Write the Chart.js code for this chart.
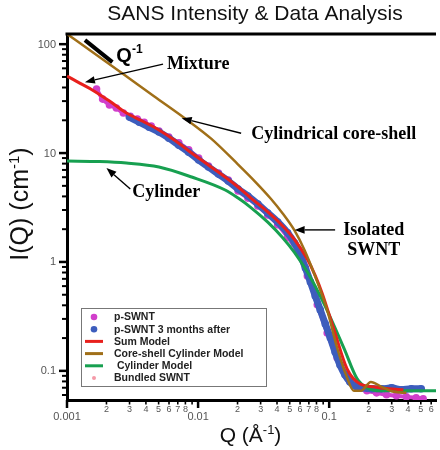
<!DOCTYPE html>
<html>
<head>
<meta charset="utf-8">
<title>SANS Intensity &amp; Data Analysis</title>
<script src="https://cdn.jsdelivr.net/npm/chart.js@4.4.1/dist/chart.umd.min.js"></script>
<style>
  html, body { margin: 0; padding: 0; background: #fff; }
  #wrap { width: 440px; height: 450px; }
</style>
</head>
<body>
<div id="wrap"><canvas id="sans" width="440" height="450"></canvas></div>
<script>
// Q in 1/Angstrom, I(Q) in 1/cm
var pswntQ = [0.00168, 0.00187, 0.00211, 0.00238, 0.00269, 0.00304, 0.00344, 0.00388, 0.00439, 0.00503,
              0.00598, 0.00713, 0.00848, 0.0101, 0.0120, 0.0143, 0.0170, 0.0202, 0.0240, 0.0286,
              0.0340, 0.0405, 0.0482, 0.0573, 0.0682, 0.0812, 0.0966, 0.115, 0.137, 0.163,
              0.194, 0.230, 0.274, 0.326, 0.388, 0.461, 0.521];
var pswntI = [38.7, 31.3, 27.6, 25.9, 23.3, 21.8, 20.5, 19.2, 17.7, 15.9,
              14.0, 12.4, 10.7, 9.00, 7.60, 6.56, 5.65, 4.48, 3.86, 3.27,
              2.70, 2.20, 1.69, 1.24, 0.745, 0.404, 0.223, 0.132, 0.0881, 0.0714,
              0.0656, 0.0628, 0.0603, 0.0590, 0.0577, 0.0565, 0.0553];

var laterQ = [0.00299, 0.00356, 0.00423, 0.00503, 0.00598, 0.00713, 0.00848, 0.0101, 0.0120, 0.0143,
              0.0170, 0.0202, 0.0240, 0.0286, 0.0340, 0.0405, 0.0482, 0.0545, 0.0604, 0.0659,
              0.0719, 0.0783, 0.0855, 0.0934, 0.102, 0.111, 0.121, 0.132, 0.144, 0.157,
              0.177, 0.211, 0.251, 0.299, 0.356, 0.423, 0.504];
var laterI = [21.4, 19.2, 17.3, 15.6, 13.7, 11.8, 10.2, 8.63, 7.45, 6.41,
              5.53, 4.68, 4.04, 3.40, 2.82, 2.33, 1.85, 1.49, 1.16, 0.881,
              0.656, 0.488, 0.363, 0.270, 0.201, 0.149, 0.113, 0.0919, 0.0792, 0.0728,
              0.0698, 0.0684, 0.0684, 0.0698, 0.0670, 0.0684, 0.0684];

var sumQ = [0.001, 0.00125, 0.00157, 0.00211, 0.00284, 0.00375, 0.00503, 0.00676, 0.00893, 0.0120,
            0.0161, 0.0202, 0.0253, 0.0340, 0.0427, 0.0545, 0.0682, 0.0783, 0.0885, 0.109,
            0.137, 0.171, 0.219, 0.284, 0.368];
var sumI = [51, 43.9, 37.8, 30.0, 23.3, 19.7, 16.3, 12.9, 10.0, 7.76,
            6.03, 4.88, 3.86, 2.88, 2.23, 1.60, 1.06, 0.750, 0.514, 0.237,
            0.104, 0.0760, 0.0714, 0.0684, 0.0670];

var shellQ = [0.001, 0.00163, 0.00265, 0.00461, 0.00805, 0.01265, 0.0202, 0.0272, 0.0359, 0.0442,
              0.0545, 0.0648, 0.0783, 0.0966, 0.115, 0.137, 0.154, 0.175, 0.208, 0.251,
              0.310, 0.388];
var shellI = [124, 81.8, 53.9, 33.3, 20.6, 13.5, 7.85, 5.48, 3.81, 2.79,
              1.94, 1.29, 0.735, 0.361, 0.163, 0.0863, 0.0656, 0.0656, 0.0792, 0.0714,
              0.0642, 0.0628];

var cylQ = [0.001, 0.00177, 0.00284, 0.00503, 0.00893, 0.0161, 0.0202, 0.0253, 0.0340, 0.0442,
            0.0545, 0.0682, 0.0916, 0.130, 0.163, 0.194, 0.251, 0.326, 0.653];
var cylI = [8.45, 8.36, 8.10, 7.45, 6.03, 4.58, 3.86, 3.16, 2.32, 1.67,
            1.22, 0.807, 0.410, 0.160, 0.0849, 0.0698, 0.0656, 0.0656, 0.0656];

var bundledQ = [];
var bundledI = [];

// Q^-1 guide segment
var slopeQ = [0.00137, 0.00222];
var slopeI = [108.8, 68.4];

// axis ticks
var xMajorTicks = [0.001, 0.01, 0.1];
var xMajorLabels = ['0.001', '0.01', '0.1'];
var xMinorSteps = [2, 3, 4, 5, 6, 7, 8, 9];
var xMinorLabels = ['2', '3', '4', '5', '6', '7', '8', ''];
var yMajorTicks = [0.01, 0.1, 1, 10, 100];
var yMajorLabels = ['', '0.1', '1', '10', '100'];
var yMinorSteps = [2, 3, 4, 5, 6, 7, 8, 9];

// annotations, anchored in data space
var notes = [
	{ text: 'Mixture', q: 0.00578, i: 59.0, from: [0.00540, 65.6], to: [0.00137, 44.8] },
	{ text: 'Cylindrical core-shell', q: 0.0254, i: 13.4, from: [0.0213, 15.2], to: [0.00750, 20.9] },
	{ text: 'Cylinder', q: 0.00315, i: 3.94, from: [0.00304, 4.68], to: [0.00200, 7.28] },
	{ text: 'Isolated', q: 0.219, i: 1.77, center: true, from: [0.111, 1.97], to: [0.0545, 1.97] },
	{ text: 'SWNT', q: 0.219, i: 1.16, center: true }
];
var slopeNote = { q: 0.00238, i: 68.4 };

var sansFont = "'Liberation Sans', Arial, sans-serif";
var serifFont = "'Liberation Serif', 'Times New Roman', serif";

function toPoints(q, i) {
	return q.map(function(v, k) { return { x: v, y: i[k] }; });
}

function drawPieces(ctx, pieces, x, y, center) {
	// pieces: [text, size, bold, raise]
	var w = 0;
	pieces.forEach(function(p) {
		ctx.font = (p[2] ? 'bold ' : '') + p[1] + 'px ' + sansFont;
		w += ctx.measureText(p[0]).width;
	});
	var cx = center ? x - w / 2 : x;
	ctx.textAlign = 'left';
	pieces.forEach(function(p) {
		ctx.font = (p[2] ? 'bold ' : '') + p[1] + 'px ' + sansFont;
		ctx.fillText(p[0], cx, y - p[3]);
		cx += ctx.measureText(p[0]).width;
	});
}

function drawArrow(ctx, x1, y1, x2, y2) {
	var ang = Math.atan2(y2 - y1, x2 - x1);
	var len = 10, half = 3.8;
	var bx = x2 - len * Math.cos(ang), by = y2 - len * Math.sin(ang);
	ctx.beginPath();
	ctx.moveTo(x1, y1);
	ctx.lineTo(bx, by);
	ctx.stroke();
	ctx.beginPath();
	ctx.moveTo(x2, y2);
	ctx.lineTo(bx + half * Math.sin(ang), by - half * Math.cos(ang));
	ctx.lineTo(bx - half * Math.sin(ang), by + half * Math.cos(ang));
	ctx.closePath();
	ctx.fill();
}

var decor = {
	id: 'decor',
	afterDraw: function(chart) {
		var ctx = chart.ctx, a = chart.chartArea;
		var xs = chart.scales.x, ys = chart.scales.y;
		ctx.save();

		// top frame line
		ctx.strokeStyle = '#000';
		ctx.lineWidth = 3;
		ctx.beginPath();
		ctx.moveTo(a.left - 1.5, a.top);
		ctx.lineTo(a.right, a.top);
		ctx.stroke();

		// y ticks
		ctx.fillStyle = '#555';
		ctx.textBaseline = 'middle';
		ctx.textAlign = 'right';
		yMajorTicks.forEach(function(d, k) {
			[1].concat(yMinorSteps).forEach(function(m) {
				var v = d * m;
				if (v < ys.min || v > ys.max) return;
				var py = ys.getPixelForValue(v);
				ctx.lineWidth = m === 1 ? 2.5 : 2;
				ctx.beginPath();
				ctx.moveTo(a.left - (m === 1 ? 8 : 5), py);
				ctx.lineTo(a.left, py);
				ctx.stroke();
				if (m === 1 && yMajorLabels[k]) {
					ctx.font = '11px ' + sansFont;
					ctx.fillText(yMajorLabels[k], a.left - 11, py + 0.5);
				}
			});
		});

		// x ticks
		ctx.textAlign = 'center';
		xMajorTicks.forEach(function(d, k) {
			[1].concat(xMinorSteps).forEach(function(m, j) {
				var v = d * m;
				if (v < xs.min * 0.999 || v > xs.max * 1.02) return;
				var px = xs.getPixelForValue(v);
				ctx.lineWidth = m === 1 ? 2.5 : 1.6;
				ctx.beginPath();
				ctx.moveTo(px, a.bottom);
				ctx.lineTo(px, a.bottom + (m === 1 ? 8 : 4.5));
				ctx.stroke();
				if (m === 1) {
					ctx.font = '11px ' + sansFont;
					ctx.fillText(xMajorLabels[k], px, a.bottom + 17);
				} else if (xMinorLabels[j - 1]) {
					ctx.font = '9px ' + sansFont;
					ctx.fillText(xMinorLabels[j - 1], px, a.bottom + 9.5);
				}
			});
		});

		// title and axis titles
		ctx.fillStyle = '#111';
		ctx.textBaseline = 'alphabetic';
		ctx.textAlign = 'center';
		ctx.font = '21px ' + sansFont;
		ctx.fillText('SANS Intensity & Data Analysis', 255, 19.5);

		drawPieces(ctx, [['Q (\u00C5', 21, false, 0], ['-1', 13, false, 8], [')', 21, false, 0]],
			(a.left + a.right) / 2 - 1, a.bottom + 42, true);

		ctx.save();
		ctx.translate(28, 204);
		ctx.rotate(-Math.PI / 2);
		drawPieces(ctx, [['I(Q) (cm', 25, false, 0], ['-1', 15, false, 9], [')', 25, false, 0]], 0, 0, true);
		ctx.restore();

		// annotations
		ctx.fillStyle = '#000';
		ctx.strokeStyle = '#000';
		ctx.lineWidth = 1.4;
		notes.forEach(function(n) {
			ctx.font = 'bold 18px ' + serifFont;
			ctx.textAlign = n.center ? 'center' : 'left';
			ctx.fillText(n.text, xs.getPixelForValue(n.q), ys.getPixelForValue(n.i));
			if (n.from) {
				drawArrow(ctx, xs.getPixelForValue(n.from[0]), ys.getPixelForValue(n.from[1]),
					xs.getPixelForValue(n.to[0]), ys.getPixelForValue(n.to[1]));
			}
		});
		drawPieces(ctx, [['Q', 20, true, 0], ['-1', 12, true, 9]],
			xs.getPixelForValue(slopeNote.q), ys.getPixelForValue(slopeNote.i), false);

		// legend box
		var lx = 81, ly = 308, lw = 185, lh = 78;
		ctx.fillStyle = '#fff';
		ctx.fillRect(lx, ly, lw, lh);
		ctx.strokeStyle = '#777';
		ctx.lineWidth = 1;
		ctx.strokeRect(lx + 0.5, ly + 0.5, lw, lh);
		ctx.textAlign = 'left';
		ctx.textBaseline = 'middle';
		chart.data.datasets.filter(function(ds) { return ds.legendRow !== undefined; })
			.sort(function(p, q) { return p.legendRow - q.legendRow; })
			.forEach(function(ds, r) {
				var ry = ly + 9 + r * 12.2;
				if (ds.legendMark === 'line') {
					ctx.strokeStyle = ds.borderColor;
					ctx.lineWidth = 3;
					ctx.beginPath();
					ctx.moveTo(lx + 4, ry);
					ctx.lineTo(lx + 22, ry);
					ctx.stroke();
				} else {
					ctx.fillStyle = ds.pointBackgroundColor;
					ctx.beginPath();
					ctx.arc(lx + 13, ry, ds.legendMark === 'small' ? 2 : 3.3, 0, Math.PI * 2);
					ctx.fill();
				}
				ctx.fillStyle = '#222';
				ctx.font = 'bold 10.5px ' + sansFont;
				ctx.fillText(ds.label, lx + 33, ry + 0.5);
			});

		ctx.restore();
	}
};

new Chart(document.getElementById('sans'), {
	type: 'scatter',
	data: {
		datasets: [{
			label: 'Q^-1',
			data: toPoints(slopeQ, slopeI),
			showLine: true,
			borderColor: '#000',
			borderWidth: 4,
			pointRadius: 0,
			order: 0
		}, {
			label: 'Core-shell Cylinder Model',
			data: toPoints(shellQ, shellI),
			showLine: true,
			borderColor: '#a06f18',
			borderWidth: 2.5,
			pointRadius: 0,
			cubicInterpolationMode: 'monotone',
			legendRow: 3, legendMark: 'line',
			order: 1
		}, {
			label: 'Sum Model',
			data: toPoints(sumQ, sumI),
			showLine: true,
			borderColor: '#e8201c',
			borderWidth: 3,
			pointRadius: 0,
			cubicInterpolationMode: 'monotone',
			legendRow: 2, legendMark: 'line',
			order: 2
		}, {
			label: ' Cylinder Model',
			data: toPoints(cylQ, cylI),
			showLine: true,
			borderColor: '#17a050',
			borderWidth: 3,
			pointRadius: 0,
			cubicInterpolationMode: 'monotone',
			legendRow: 4, legendMark: 'line',
			order: 3
		}, {
			label: 'p-SWNT 3 months after',
			data: toPoints(laterQ, laterI),
			showLine: true,
			borderColor: '#3d5dbd',
			borderWidth: 7,
			pointRadius: 3.8,
			pointBorderWidth: 0,
			pointBackgroundColor: '#3d5dbd',
			cubicInterpolationMode: 'monotone',
			legendRow: 1, legendMark: 'dot',
			order: 4
		}, {
			label: 'p-SWNT',
			data: toPoints(pswntQ, pswntI),
			showLine: true,
			borderColor: '#d13fcb',
			borderWidth: 4,
			pointRadius: 3.8,
			pointBorderWidth: 0,
			pointBackgroundColor: '#d13fcb',
			cubicInterpolationMode: 'monotone',
			legendRow: 0, legendMark: 'dot',
			order: 5
		}, {
			label: 'Bundled SWNT',
			data: toPoints(bundledQ, bundledI),
			pointRadius: 2,
			pointBackgroundColor: '#f59aa8',
			borderColor: '#f59aa8',
			legendRow: 5, legendMark: 'small',
			order: 6
		}]
	},
	options: {
		responsive: false,
		animation: false,
		layout: { padding: { top: 34, left: 0, right: 0, bottom: 0 } },
		plugins: {
			legend: { display: false },
			tooltip: { enabled: false }
		},
		scales: {
			x: {
				type: 'logarithmic',
				min: 0.001,
				max: 0.653,
				grid: { display: false },
				border: { display: true, color: '#000', width: 3 },
				ticks: { display: false },
				afterFit: function(scale) { scale.height = 50; }
			},
			y: {
				type: 'logarithmic',
				min: 0.054,
				max: 124,
				grid: { display: false },
				border: { display: true, color: '#000', width: 3 },
				ticks: { display: false },
				afterFit: function(scale) { scale.width = 67; }
			}
		}
	},
	plugins: [decor]
});
</script>
</body>
</html>
